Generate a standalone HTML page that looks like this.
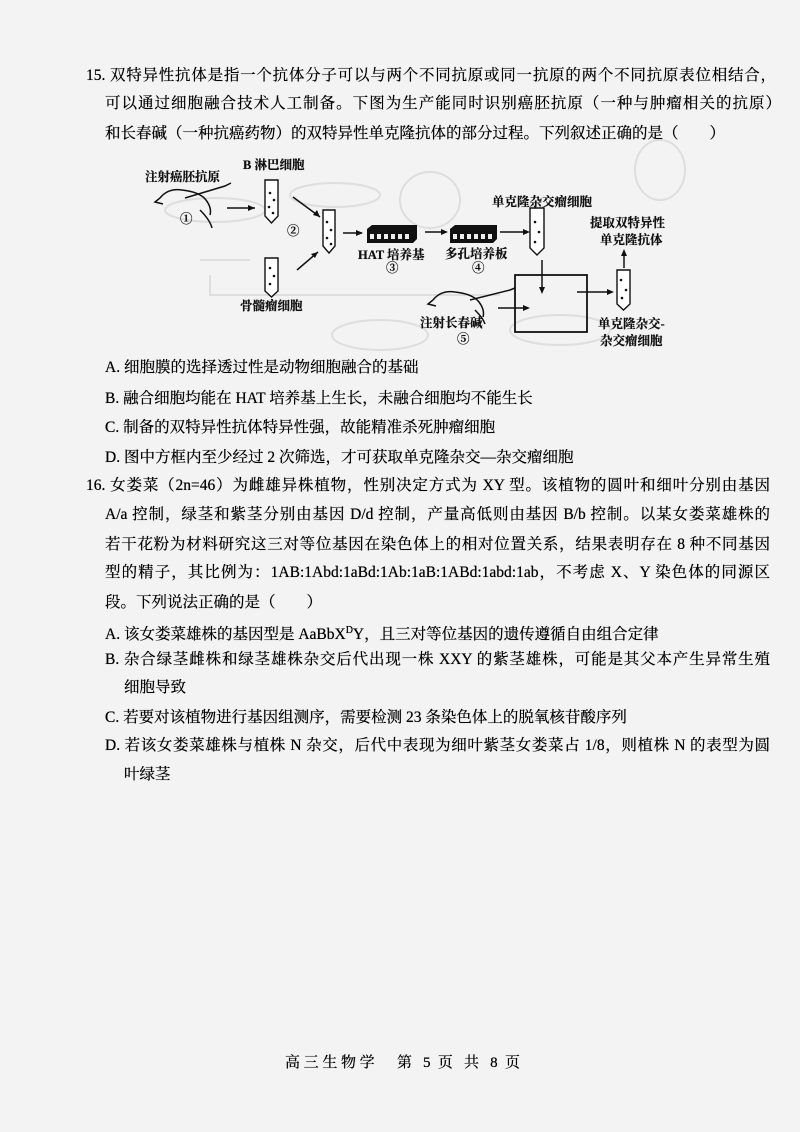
<!DOCTYPE html>
<html><head><meta charset="utf-8"><style>
body{margin:0;background:#fff}
#p{position:relative;width:800px;height:1132px;background:#f3f3f3;overflow:hidden;font-family:"Liberation Serif","Noto Serif CJK SC",serif;color:#000;font-size:15.5px;text-shadow:0 0 0.5px #000}
.l{position:absolute;white-space:nowrap;line-height:20px}
.j{text-align:justify;text-align-last:justify}
svg{position:absolute;left:0;top:0}
svg text{font-family:"Liberation Serif","Noto Serif CJK SC",serif;font-size:12.5px;font-weight:bold;fill:#111}
</style></head><body><div id="p">
<svg width="800" height="1132">
<g fill="none" stroke="#dedede" stroke-width="2">
<ellipse cx="430" cy="200" rx="30" ry="28"/><ellipse cx="335" cy="195" rx="45" ry="12"/><ellipse cx="660" cy="170" rx="25" ry="30"/>
<ellipse cx="215" cy="210" rx="50" ry="12"/><ellipse cx="380" cy="335" rx="48" ry="15"/><ellipse cx="560" cy="330" rx="50" ry="15"/>
<path d="M200 260 H250 M210 275 V295 H500"/>
</g>
<g stroke="#111" stroke-width="1.5" fill="none">
<path d="M160 198 q8 -10 22 -8 q18 2 24 10 q6 8 4 15 M160 198 l-5 4 l8 2 M200 210 q10 10 12 18" />
<path d="M185 198 l40 -12 l6 -3"/>
<path d="M227 208 H255"/>
<path d="M293 197 L320 217"/><path d="M297 270 L318 252"/>
<path d="M343 233 H362"/><path d="M425 232 H446"/><path d="M500 232 H527"/>
<path d="M542 260 V292"/><path d="M498 308 H528"/><path d="M577 292 H612"/><path d="M624 268 V252"/>
<rect x="515" y="275" width="72" height="57" stroke-width="1.8"/>
<path d="M433 300 q8 -10 22 -8 q18 2 24 10 q6 8 4 15 M433 300 l-5 4 l8 2 M475 310 q8 8 10 14"/>
<path d="M470 300 l40 -10 l5 -2"/>
</g>
<g fill="#111">
<path d="M255 208 l-7 -3 v6z"/><path d="M320 217 l-3 -7 l-4 5z"/><path d="M318 252 l-7 2 l4 4z"/>
<path d="M363 233 l-7 -3 v6z"/><path d="M448 232 l-7 -3 v6z"/><path d="M530 232 l-7 -3 v6z"/>
<path d="M542 294 l-3 -7 h6z"/><path d="M530 308 l-7 -3 v6z"/><path d="M614 292 l-7 -3 v6z"/><path d="M624 249 l-3 7 h6z"/>
</g>
<g stroke="#111" stroke-width="1.4" fill="#fff">
<path d="M265 180 h13 v36 l-6.5 7 l-6.5 -7z"/><path d="M323 210 h12 v36 l-6 7 l-6 -7z"/>
<path d="M265 258 h13 v33 l-6.5 6 l-6.5 -6z"/><path d="M530 208 h14 v40 l-7 7 l-7 -7z"/><path d="M617 270 h13 v34 l-6.5 6 l-6.5 -6z"/>
</g>
<g fill="#111">
<circle cx="270" cy="193" r="1.3"/><circle cx="274" cy="200" r="1.3"/><circle cx="269" cy="207" r="1.3"/><circle cx="273" cy="213" r="1.3"/>
<circle cx="327" cy="222" r="1.3"/><circle cx="331" cy="230" r="1.3"/><circle cx="327" cy="238" r="1.3"/><circle cx="331" cy="244" r="1.3"/>
<circle cx="270" cy="268" r="1.3"/><circle cx="274" cy="276" r="1.3"/><circle cx="270" cy="284" r="1.3"/>
<circle cx="535" cy="222" r="1.3"/><circle cx="539" cy="232" r="1.3"/><circle cx="535" cy="242" r="1.3"/>
<circle cx="621" cy="280" r="1.3"/><circle cx="626" cy="290" r="1.3"/><circle cx="622" cy="298" r="1.3"/>
<path d="M367 229 l5 -4 h45 v14 l-4 4 h-46z"/><path d="M450 229 l5 -4 h42 v14 l-4 4 h-43z"/>
</g>
<g fill="#eee"><rect x="370" y="234" width="4" height="5"/><rect x="377" y="234" width="4" height="5"/><rect x="384" y="234" width="4" height="5"/><rect x="391" y="234" width="4" height="5"/><rect x="398" y="234" width="4" height="5"/><rect x="405" y="234" width="4" height="5"/>
<rect x="453" y="234" width="4" height="5"/><rect x="460" y="234" width="4" height="5"/><rect x="467" y="234" width="4" height="5"/><rect x="474" y="234" width="4" height="5"/><rect x="481" y="234" width="4" height="5"/><rect x="488" y="234" width="4" height="5"/></g>
<text x="145" y="181">注射癌胚抗原</text><text x="180" y="223" font-size="14">①</text>
<text x="243" y="169">B 淋巴细胞</text><text x="287" y="235" font-size="14">②</text>
<text x="240" y="310">骨髓瘤细胞</text>
<text x="358" y="259">HAT 培养基</text><text x="386" y="272" font-size="14">③</text>
<text x="445" y="258">多孔培养板</text><text x="472" y="272" font-size="14">④</text>
<text x="492" y="206">单克隆杂交瘤细胞</text>
<text x="590" y="227">提取双特异性</text><text x="600" y="244">单克隆抗体</text>
<text x="420" y="327">注射长春碱</text><text x="457" y="343" font-size="14">⑤</text>
<text x="598" y="328">单克隆杂交-</text><text x="600" y="345">杂交瘤细胞</text>
</svg>
<div class="l j" style="left:86px;top:66px;width:690px">15. 双特异性抗体是指一个抗体分子可以与两个不同抗原或同一抗原的两个不同抗原表位相结合，</div>
<div class="l j" style="left:105px;top:94px;width:676px">可以通过细胞融合技术人工制备。下图为生产能同时识别癌胚抗原（一种与肿瘤相关的抗原）</div>
<div class="l" style="left:105px;top:124px">和长春碱（一种抗癌药物）的双特异性单克隆抗体的部分过程。下列叙述正确的是（　　）</div>
<div class="l" style="left:105px;top:358px">A. 细胞膜的选择透过性是动物细胞融合的基础</div>
<div class="l" style="left:105px;top:389px">B. 融合细胞均能在 HAT 培养基上生长，未融合细胞均不能生长</div>
<div class="l" style="left:105px;top:418px">C. 制备的双特异性抗体特异性强，故能精准杀死肿瘤细胞</div>
<div class="l" style="left:105px;top:448px">D. 图中方框内至少经过 2 次筛选，才可获取单克隆杂交—杂交瘤细胞</div>
<div class="l j" style="left:86px;top:476px;width:684px">16. 女娄菜（2n=46）为雌雄异株植物，性别决定方式为 XY 型。该植物的圆叶和细叶分别由基因</div>
<div class="l j" style="left:105px;top:505px;width:665px">A/a 控制，绿茎和紫茎分别由基因 D/d 控制，产量高低则由基因 B/b 控制。以某女娄菜雄株的</div>
<div class="l j" style="left:105px;top:535px;width:665px">若干花粉为材料研究这三对等位基因在染色体上的相对位置关系，结果表明存在 8 种不同基因</div>
<div class="l j" style="left:105px;top:563px;width:665px">型的精子，其比例为：1AB:1Abd:1aBd:1Ab:1aB:1ABd:1abd:1ab，不考虑 X、Y 染色体的同源区</div>
<div class="l" style="left:105px;top:593px">段。下列说法正确的是（　　）</div>
<div class="l" style="left:105px;top:621px">A. 该女娄菜雄株的基因型是 AaBbX<sup style="font-size:10px">D</sup>Y，且三对等位基因的遗传遵循自由组合定律</div>
<div class="l j" style="left:105px;top:650px;width:665px">B. 杂合绿茎雌株和绿茎雄株杂交后代出现一株 XXY 的紫茎雄株，可能是其父本产生异常生殖</div>
<div class="l" style="left:124px;top:678px">细胞导致</div>
<div class="l" style="left:105px;top:708px">C. 若要对该植物进行基因组测序，需要检测 23 条染色体上的脱氧核苷酸序列</div>
<div class="l j" style="left:105px;top:736px;width:665px">D. 若该女娄菜雄株与植株 N 杂交，后代中表现为细叶紫茎女娄菜占 1/8，则植株 N 的表型为圆</div>
<div class="l" style="left:124px;top:765px">叶绿茎</div>
<div class="l j" style="left:285px;top:1053px;width:235px;font-size:15px">高三生物学　第 5 页 共 8 页</div>
</div></body></html>
